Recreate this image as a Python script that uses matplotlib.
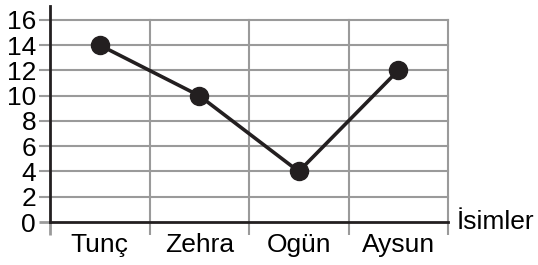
import matplotlib.pyplot as plt

names = ["Tunç", "Zehra", "Ogün", "Aysun"]
values = [14, 10, 4, 12]
y_ticks = [0, 2, 4, 6, 8, 10, 12, 14, 16]
x_label = "İsimler"

plt.rcParams["font.family"] = ["Liberation Sans", "DejaVu Sans"]

fig = plt.figure(figsize=(5.38, 2.65), dpi=100)
ax = fig.add_axes([50 / 538, 1 - 222 / 265, 398 / 538, 216 / 265])

grid_color = "#9a9a9a"
n = len(names)
centers = [i + 0.5 for i in range(n)]

# grid
for y in y_ticks[1:]:
    ax.plot([0, n], [y, y], color=grid_color, lw=1.5, zorder=1, clip_on=False)
for x in range(1, n + 1):
    ax.plot([x, x], [0, y_ticks[-1]], color=grid_color, lw=1.5, zorder=1, clip_on=False)

# data line
ax.plot(centers, values, color="#231f20", lw=2.6, marker="o", markersize=13,
        zorder=3, clip_on=False)

ax.set_xlim(0, n)
ax.set_ylim(0, 17.1)

for s in ["top", "right"]:
    ax.spines[s].set_visible(False)
for s in ["left", "bottom"]:
    ax.spines[s].set_linewidth(2)
    ax.spines[s].set_color("#231f20")

# y ticks
ax.set_yticks(y_ticks)
ax.set_yticklabels([str(v) for v in y_ticks], fontsize=19)
ax.tick_params(axis="y", direction="out", length=8, width=1.5, color=grid_color, pad=2)
ax.yaxis.get_major_ticks()[0].tick1line.set_color("#231f20")
ax.yaxis.get_major_ticks()[0].tick1line.set_markeredgewidth(2)

# x ticks: marks at boundaries, labels at centers
ax.set_xticks(range(0, n + 1))
ax.set_xticklabels([""] * (n + 1))
ax.tick_params(axis="x", which="major", direction="out", length=9, width=1.5, color=grid_color)
ax.xaxis.get_major_ticks()[0].tick1line.set_color("#231f20")
ax.xaxis.get_major_ticks()[0].tick1line.set_markeredgewidth(2)
ax.set_xticks(centers, minor=True)
ax.set_xticklabels(names, minor=True, fontsize=19)
ax.tick_params(axis="x", which="minor", length=0, pad=8)

ax.text(n + 0.09, 0, x_label, fontsize=19, va="center", ha="left", clip_on=False)

fig.savefig("out.png", dpi=100)
